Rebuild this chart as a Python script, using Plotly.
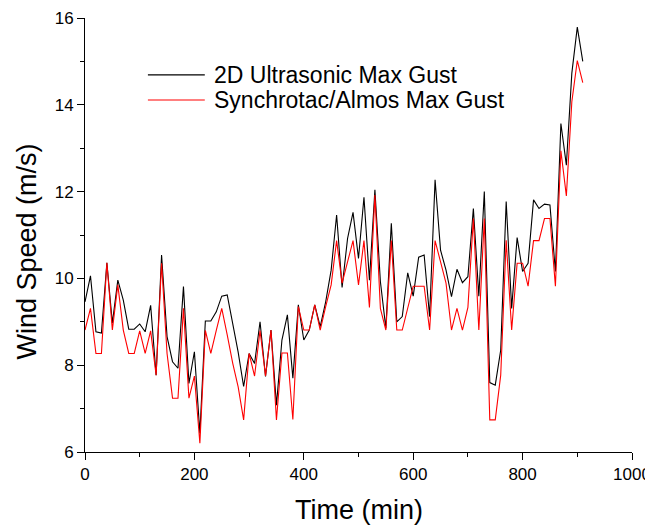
import plotly.graph_objects as go

time_min = list(range(0, 920, 10))

ultrasonic_gust = [
    9.46, 10.06, 8.77, 8.74, 10.36, 8.97, 9.96, 9.50, 8.83, 8.83,
    8.95, 8.77, 9.38, 7.77, 10.54, 8.66, 8.08, 7.93, 9.81, 7.58,
    8.31, 6.43, 9.02, 9.02, 9.23, 9.59, 9.62, 9.00, 8.30, 7.51,
    8.27, 8.04, 9.00, 7.74, 8.81, 7.08, 8.58, 9.16, 7.70, 9.39,
    8.58, 8.81, 9.39, 8.89, 9.46, 10.19, 11.46, 9.79, 10.92, 11.52,
    10.46, 11.87, 9.96, 12.04, 9.93, 8.85, 11.27, 9.00, 9.12, 10.13,
    9.59, 10.49, 10.54, 9.12, 12.27, 10.65, 10.19, 9.58, 10.21, 9.90,
    10.04, 11.61, 9.59, 12.00, 7.60, 7.54, 8.35, 11.77, 9.31, 10.94,
    10.16, 10.35, 11.81, 11.61, 11.71, 11.69, 10.16, 13.57, 12.61, 14.73,
    15.79, 15.00,
]

synchrotac_gust = [
    8.81, 9.31, 8.27, 8.27, 10.36, 8.81, 9.85, 8.81, 8.27, 8.27,
    8.79, 8.27, 8.79, 7.77, 10.35, 8.27, 7.24, 7.24, 9.31, 7.24,
    7.75, 6.20, 8.80, 8.27, 8.80, 9.31, 8.70, 8.05, 7.50, 6.74,
    8.27, 7.75, 8.80, 7.75, 8.81, 6.74, 8.28, 8.28, 6.75, 9.35,
    8.81, 8.81, 9.39, 8.81, 9.35, 9.85, 10.87, 9.89, 10.38, 10.87,
    9.85, 10.87, 9.33, 11.92, 9.31, 8.81, 10.87, 8.81, 8.81, 9.32,
    9.82, 9.82, 9.82, 8.81, 10.87, 10.38, 9.89, 8.81, 9.31, 8.81,
    9.33, 11.38, 8.81, 11.38, 6.74, 6.74, 7.77, 10.88, 8.81, 10.35,
    10.35, 9.82, 10.87, 10.87, 11.38, 11.38, 9.82, 12.94, 11.90, 14.07,
    15.02, 14.51,
]

series_names = ["2D Ultrasonic Max Gust", "Synchrotac/Almos Max Gust"]
series_colors = ["#000000", "#ff0000"]

x_ticks = [0, 200, 400, 600, 800, 1000]
y_ticks = [6, 8, 10, 12, 14, 16]

FONT = "Arial, 'Liberation Sans', sans-serif"

fig = go.Figure()
for name, vals, col in zip(series_names, [ultrasonic_gust, synchrotac_gust], series_colors):
    fig.add_trace(go.Scatter(x=time_min, y=vals, mode="lines", name=name,
                             line=dict(color=col, width=1.1), showlegend=False))

# manual legend
legend_y = [0.869, 0.811]
for name, col, ly in zip(series_names, series_colors, legend_y):
    fig.add_shape(type="line", xref="paper", yref="paper",
                  x0=0.115, x1=0.219, y0=ly, y1=ly,
                  line=dict(color=col, width=1.1))
    fig.add_annotation(xref="paper", yref="paper", x=0.232, y=ly,
                       text=name, showarrow=False, xanchor="left", yanchor="middle",
                       font=dict(family=FONT, size=23, color="black"))

fig.add_annotation(xref="paper", yref="paper", x=0.5, y=-0.1336,
                   text="Time (min)", showarrow=False, xanchor="center", yanchor="middle",
                   font=dict(family=FONT, size=27, color="black"))
fig.add_annotation(xref="paper", yref="paper", x=-0.106, y=0.462,
                   text="Wind Speed (m/s)", showarrow=False, textangle=-90,
                   xanchor="center", yanchor="middle",
                   font=dict(family=FONT, size=27, color="black"))

# page body has an 8px margin, so the figure is sized/offset to compensate
fig.update_layout(
    width=645, height=520,
    margin=dict(l=77, r=21, t=10, b=76, autoexpand=False),
    plot_bgcolor="white", paper_bgcolor="white",
    font=dict(family=FONT, color="black"),
)
fig.update_xaxes(range=[0, 1000], tickvals=x_ticks, ticktext=[str(v) for v in x_ticks],
                 automargin=False,
                 showgrid=False, zeroline=False, showline=True, linecolor="black", linewidth=1,
                 ticks="outside", ticklen=7, tickwidth=1, tickcolor="black",
                 tickfont=dict(family=FONT, size=17, color="black"),
                 minor=dict(tickvals=[100, 300, 500, 700, 900], ticks="outside", ticklen=4,
                            tickcolor="black", tickwidth=1, showgrid=False))
fig.update_yaxes(range=[6, 16], tickvals=y_ticks, ticktext=[str(v) for v in y_ticks],
                 automargin=False,
                 showgrid=False, zeroline=False, showline=True, linecolor="black", linewidth=1,
                 ticks="outside", ticklen=7, tickwidth=1, tickcolor="black",
                 tickfont=dict(family=FONT, size=17, color="black"),
                 minor=dict(tickvals=[7, 9, 11, 13, 15], ticks="outside", ticklen=4,
                            tickcolor="black", tickwidth=1, showgrid=False))

fig.write_html("out.html")
